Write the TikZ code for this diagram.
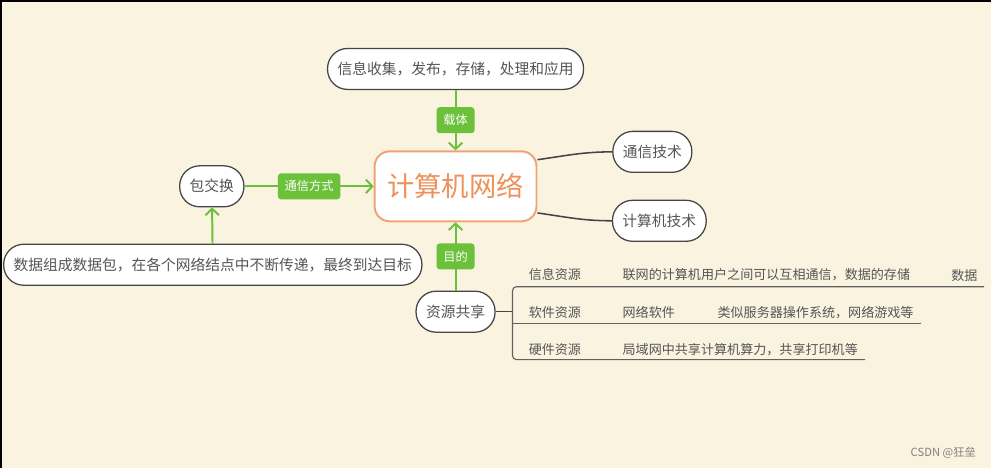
\documentclass[tikz,border=0pt]{standalone}
\usepackage{fontspec}
\setmainfont{Noto Sans CJK SC}
\usetikzlibrary{arrows.meta,calc,positioning}
\definecolor{paper}{HTML}{FAF3DF}
\definecolor{leaf}{HTML}{6CC13A}
\definecolor{ink}{HTML}{555555}
\definecolor{rim}{HTML}{454545}
\definecolor{peach}{HTML}{EE915A}
\definecolor{peachrim}{HTML}{F0A474}

\begin{document}
\begin{tikzpicture}[
  x=0.025cm, y=-0.025cm,
  topic/.style={rectangle,rounded corners=3.75mm,draw=peachrim,line width=1.4pt,
                fill=white,minimum width=40.5mm,minimum height=17.5mm,text=peach,
                font=\fontsize{19.4}{22}\selectfont},
  pill/.style={rectangle,rounded corners=5mm,draw=rim,line width=0.9pt,fill=white,
               text=ink,minimum height=10.25mm,inner xsep=2.5mm,inner ysep=0pt,
               font=\fontsize{10.5}{12}\selectfont},
  tag/.style={rectangle,rounded corners=0.8mm,fill=leaf,text=white,
              minimum height=6.5mm,inner xsep=1.7mm,inner ysep=0pt,
              font=\fontsize{8.7}{10}\selectfont},
  action/.style={draw=leaf,line width=1.4pt,-{Straight Barb[length=1.6mm,width=3.4mm]}},
  branch/.style={draw=rim,line width=1.1pt},
  leafline/.style={draw=rim!85,line width=0.8pt},
  item/.style={anchor=west,inner sep=0pt,text=ink,font=\fontsize{9.3}{11}\selectfont}
]
\fill[paper] (0,0) rectangle (992,468);
\draw[black,line width=1.4pt] (1,468) -- (1,1) -- (992,1);
\useasboundingbox (0,0) rectangle (992,468);

\node[topic] (net)     at (456,186.5) {计算机网络};
\node[pill]  (use)     at (456,69)    {信息收集，发布，存储，处理和应用};
\node[pill]  (comm)    at (653,152)   {通信技术};
\node[pill]  (comp)    at (660,221)   {计算机技术};
\node[pill]  (pkt)     at (212,186.5) {包交换};
\node[pill]  (pktdesc) at (213,265)   {数据组成数据包，在各个网络结点中不断传递，最终到达目标};
\node[pill]  (share)   at (456,312)   {资源共享};

\draw[action] (use) -- node[tag] (carrier) {载体} (net);
\draw[action] (pkt) -- node[tag] (mode) {通信方式} (net);
\draw[action] (pktdesc) -- (pkt);
\draw[action] (share) -- node[tag] (aim) {目的} (net);

\draw[branch] (net.18) to[out=8,in=180] (comm.west);
\draw[branch] (net.-18) to[out=-8,in=180] (comp.west);

\coordinate (fork)   at (513,312);
\coordinate (forkA)  at (513,287);
\coordinate (forkB)  at (513,324);
\coordinate (forkC)  at (513,360);
\coordinate (endA)   at (985,287);
\coordinate (endB)   at (922,324);
\coordinate (endC)   at (866,360);
\draw[branch] (share) -- (fork);
\draw[leafline,rounded corners=1mm] (endA) -- (forkA) -- (forkC) -- (endC);
\draw[leafline] (forkB) -- (endB);

\node[item] (infoA) at (529,275) {信息资源};
\node[item] (infoB) at (623,275) {联网的计算机用户之间可以互相通信，数据的存储};
\node[item] (infoC) at (952,276) {数据};
\node[item] (softA) at (529,313) {软件资源};
\node[item] (softB) at (623,313) {网络软件};
\node[item] (softC) at (718,313) {类似服务器操作系统，网络游戏等};
\node[item] (hardA) at (529,350) {硬件资源};
\node[item] (hardB) at (623,350) {局域网中共享计算机算力，共享打印机等};

\node[anchor=east,inner sep=0pt,text=gray,font=\fontsize{8}{9}\selectfont]
  (mark) at (977,453) {CSDN @狂垒};
\end{tikzpicture}
\end{document}
